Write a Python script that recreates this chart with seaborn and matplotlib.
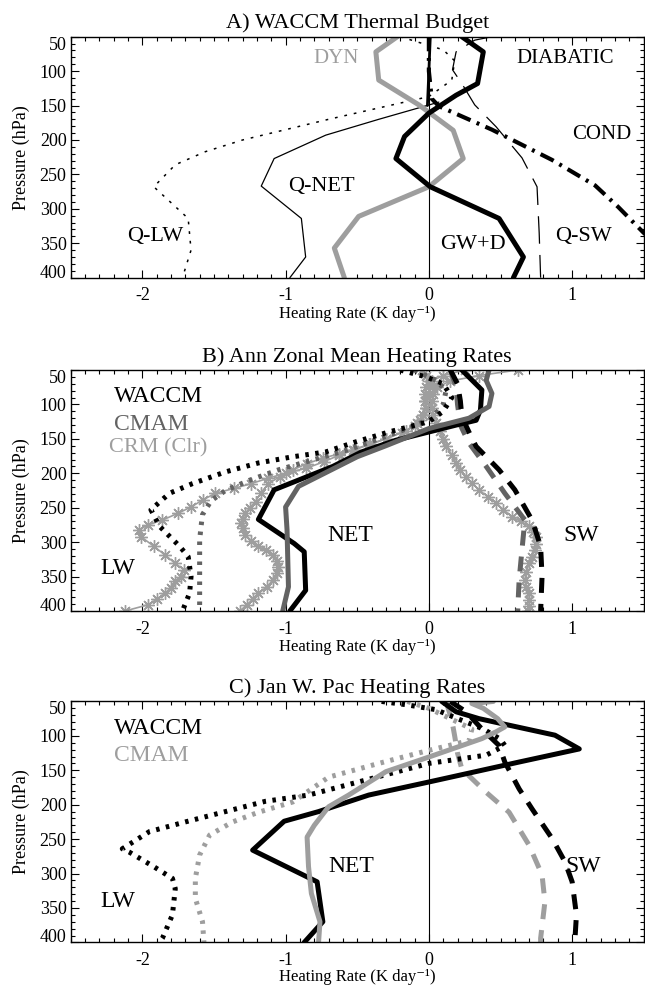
import matplotlib
matplotlib.use("Agg")
import matplotlib.pyplot as plt
import seaborn as sns
from matplotlib.ticker import MultipleLocator

sns.set_theme(style="ticks")
plt.rcParams['font.family'] = ['Liberation Serif', 'DejaVu Serif']
plt.rcParams['axes.unicode_minus'] = False

# ---------------- axes / ticks ----------------
x_ticks = [-2, -1, 0, 1]
x_tick_labels = ['-2', '-1', '0', '1']
p_ticks = [50, 100, 150, 200, 250, 300, 350, 400]
p_tick_labels = ['50', '100', '150', '200', '250', '300', '350', '400']
titles = ['A) WACCM Thermal Budget', 'B) Ann Zonal Mean Heating Rates', 'C) Jan W. Pac Heating Rates']
x_label = 'Heating Rate (K day\u207b\u00b9)'
y_label = 'Pressure (hPa)'

# ---------------- Panel A ----------------
a_qlw_p = [50, 69, 85, 113, 137, 170, 200, 217, 236, 268, 314, 360, 400]
a_qlw_x = [-0.20, 0.10, 0.18, 0.16, 0.0, -0.70, -1.30, -1.56, -1.77, -1.92, -1.68, -1.66, -1.72]
a_qnet_p = [145, 170, 193, 227, 267, 314, 370, 400]
a_qnet_x = [0.07, -0.35, -0.72, -1.08, -1.17, -0.89, -0.86, -0.97]
a_diab_p = [50, 100, 150]
a_diab_x = [0.01, 0.0, -0.01]
a_qsw_p = [50, 55, 72, 98, 118, 149, 181, 226, 268, 335, 400]
a_qsw_x = [0.44, 0.32, 0.19, 0.165, 0.23, 0.32, 0.47, 0.65, 0.755, 0.77, 0.78]
a_cond_p = [50, 100, 140, 151, 185, 207, 229, 266, 297, 335, 370, 400]
a_cond_x = [0.0, 0.0, 0.02, 0.07, 0.44, 0.65, 0.86, 1.16, 1.32, 1.50, 1.70, 1.85]
a_dyn_p = [50, 72, 113, 149, 186, 227, 268, 311, 357, 400]
a_dyn_x = [-0.22, -0.37, -0.35, -0.07, 0.17, 0.24, 0.0, -0.49, -0.66, -0.59]
a_gwd_p = [50, 72, 118, 135, 161, 195, 227, 268, 314, 370, 400]
a_gwd_x = [0.23, 0.38, 0.34, 0.19, 0.0, -0.17, -0.23, 0.01, 0.49, 0.66, 0.59]

# ---------------- Panel B ----------------
b_waccm_net_p = [50, 79, 108, 123, 130, 140, 152, 169, 190, 224, 267, 302, 314, 370, 400]
b_waccm_net_x = [0.23, 0.37, 0.36, 0.33, 0.19, 0.0, -0.23, -0.47, -0.67, -1.08, -1.19, -0.94, -0.87, -0.86, -0.97]
b_cmam_net_p = [50, 65, 84, 103, 120, 135, 160, 176, 219, 249, 282, 365, 400]
b_cmam_net_x = [0.42, 0.40, 0.44, 0.42, 0.28, 0.0, -0.30, -0.50, -0.91, -1.0, -0.99, -0.98, -1.02]
b_crm_net_p = [50, 58, 66, 75, 85, 95, 105, 115, 127, 138, 150, 158, 166, 172, 178, 186, 195, 205, 215, 228,
               241, 250, 258, 266, 272, 280, 289, 298, 306, 312, 319, 327, 336, 345, 355, 365, 374, 383, 391, 400]
b_crm_net_x = [0.25, 0.10, 0.02, -0.02, -0.03, -0.03, -0.02, -0.04, -0.08, -0.16, -0.30, -0.42, -0.53, -0.63,
               -0.74, -0.85, -0.95, -1.04, -1.12, -1.17, -1.21, -1.25, -1.28, -1.30, -1.31, -1.30, -1.28, -1.24,
               -1.19, -1.14, -1.09, -1.06, -1.05, -1.06, -1.09, -1.13, -1.19, -1.23, -1.27, -1.32]
b_waccm_lw_p = [50, 60, 70, 90, 110, 125, 140, 155, 169, 176, 185, 198, 215, 229, 253, 277, 306, 321, 350, 374, 400]
b_waccm_lw_x = [-0.20, -0.02, 0.10, 0.16, 0.10, 0.0, -0.28, -0.52, -0.72, -0.95, -1.19, -1.42, -1.65, -1.81,
                -1.94, -1.88, -1.74, -1.68, -1.66, -1.67, -1.72]
b_cmam_lw_p = [50, 65, 80, 100, 120, 135, 150, 165, 180, 195, 210, 225, 240, 260, 277, 297, 331, 365, 400]
b_cmam_lw_x = [-0.10, 0.05, 0.12, 0.10, 0.02, -0.15, -0.35, -0.55, -0.80, -1.05, -1.25, -1.42, -1.52, -1.58,
               -1.59, -1.60, -1.60, -1.60, -1.60]
b_crm_lw_p = [50, 58, 66, 75, 85, 95, 105, 115, 123, 132, 141, 150, 158, 166, 174, 183, 193, 200, 207, 215,
              222, 229, 239, 249, 258, 268, 275, 282, 292, 306, 319, 331, 340, 350, 357, 366, 374, 383, 391, 400]
b_crm_lw_x = [-0.05, -0.02, 0.0, 0.02, 0.0, -0.03, -0.02, -0.04, -0.06, -0.10, -0.19, -0.30, -0.41, -0.52,
              -0.63, -0.73, -0.86, -1.0, -1.12, -1.24, -1.36, -1.49, -1.58, -1.66, -1.75, -1.86, -1.96, -2.02,
              -2.01, -1.92, -1.84, -1.77, -1.71, -1.73, -1.77, -1.80, -1.84, -1.90, -1.96, -2.12]
b_waccm_sw_p = [50, 70, 95, 118, 149, 161, 195, 224, 268, 306, 350, 400]
b_waccm_sw_x = [0.15, 0.20, 0.22, 0.23, 0.30, 0.33, 0.49, 0.60, 0.72, 0.78, 0.79, 0.78]
b_cmam_sw_p = [50, 74, 100, 130, 156, 190, 229, 268, 311, 355, 400]
b_cmam_sw_x = [0.15, 0.19, 0.20, 0.22, 0.28, 0.40, 0.53, 0.67, 0.65, 0.63, 0.62]
b_crm_sw_p = [50, 58, 66, 75, 85, 95, 105, 115, 127, 138, 150, 161, 173, 185, 195, 205, 214, 224, 234, 243,
              253, 263, 270, 277, 285, 292, 302, 311, 321, 331, 343, 355, 365, 374, 384, 393, 400]
b_crm_sw_x = [0.62, 0.35, 0.15, 0.06, 0.03, 0.02, 0.02, 0.03, 0.05, 0.08, 0.10, 0.12, 0.16, 0.19, 0.22, 0.26,
              0.30, 0.35, 0.41, 0.47, 0.52, 0.58, 0.64, 0.70, 0.73, 0.75, 0.75, 0.74, 0.72, 0.70, 0.68, 0.67,
              0.68, 0.70, 0.70, 0.70, 0.69]

# ---------------- Panel C ----------------
c_waccm_net_p = [50, 65, 75, 99, 119, 138, 167, 186, 210, 224, 266, 312, 370, 400]
c_waccm_net_x = [0.09, 0.19, 0.35, 0.88, 1.05, 0.63, 0.0, -0.42, -0.77, -1.01, -1.23, -0.78, -0.74, -0.87]
c_cmam_net_p = [50, 53, 60, 75, 87, 94, 104, 130, 152, 186, 203, 230, 247, 290, 329, 370, 400]
c_cmam_net_x = [0.45, 0.30, 0.38, 0.48, 0.53, 0.47, 0.37, 0.01, -0.30, -0.56, -0.70, -0.80, -0.85, -0.84,
                -0.82, -0.76, -0.77]
c_waccm_lw_p = [50, 55, 62, 75, 90, 105, 114, 128, 140, 163, 186, 195, 210, 225, 239, 264, 269, 290, 307, 322,
                360, 394, 400]
c_waccm_lw_x = [-0.33, -0.15, 0.05, 0.20, 0.38, 0.50, 0.53, 0.40, 0.0, -0.42, -0.84, -1.14, -1.42, -1.70, -1.95,
                -2.14, -2.09, -1.92, -1.79, -1.77, -1.79, -1.86, -1.88]
c_cmam_lw_p = [50, 60, 75, 90, 107, 121, 140, 160, 196, 211, 225, 244, 273, 307, 336, 370, 400]
c_cmam_lw_x = [-0.15, 0.0, 0.15, 0.30, 0.28, 0.0, -0.35, -0.70, -0.95, -1.19, -1.37, -1.53, -1.60, -1.63, -1.63,
               -1.58, -1.57]
c_waccm_sw_p = [50, 65, 90, 114, 138, 177, 206, 249, 283, 312, 360, 394, 400]
c_waccm_sw_x = [0.15, 0.26, 0.37, 0.49, 0.53, 0.63, 0.72, 0.86, 0.95, 1.0, 1.03, 1.02, 1.02]
c_cmam_sw_p = [50, 77, 100, 125, 148, 182, 211, 259, 302, 341, 394, 400]
c_cmam_sw_x = [0.12, 0.16, 0.18, 0.20, 0.23, 0.40, 0.56, 0.70, 0.79, 0.81, 0.78, 0.78]

BLACK = 'black'
DGRAY = '#636363'
LGRAY = '#9e9e9e'

fig = plt.figure(figsize=(6.45, 9.92), dpi=100)
L, W, H = 0.1096, 0.8885, 0.2429
axA = fig.add_axes([L, 0.7201, W, H])
axB = fig.add_axes([L, 0.3841, W, H])
axC = fig.add_axes([L, 0.0500, W, H])


def line(ax, x, p, color, lw, ls='-', **kw):
    sns.lineplot(x=x, y=p, sort=False, estimator=None, ax=ax, color=color,
                 lw=lw, linestyle=ls, legend=False, **kw)


def setup(ax, title, xlabelpad=1):
    ax.set_xlim(-2.5, 1.5)
    ax.set_ylim(400, 50)
    ax.set_xticks(x_ticks)
    ax.set_xticklabels(x_tick_labels)
    ax.set_yticks(p_ticks)
    ax.set_yticklabels(p_tick_labels)
    ax.xaxis.set_minor_locator(MultipleLocator(0.1))
    ax.yaxis.set_minor_locator(MultipleLocator(10))
    ax.tick_params(which='both', direction='in', top=True, right=True,
                   color='black', width=0.8)
    ax.tick_params(which='major', length=6)
    ax.tick_params(which='minor', length=3)
    ax.tick_params(axis='x', which='major', pad=7, labelsize=13, labelcolor='black')
    ax.tick_params(axis='y', which='major', pad=3, labelsize=13, labelcolor='black')
    for s in ax.spines.values():
        s.set_color('black')
        s.set_linewidth(1.0)
    ax.axvline(0, color='black', lw=0.8, zorder=1)
    ax.set_title(title, fontsize=16, pad=6, color='black')
    ax.set_xlabel(x_label, fontsize=12, labelpad=xlabelpad, color='black')
    ax.set_ylabel(y_label, fontsize=13, labelpad=7, color='black')
    ax.grid(False)
    ylabels = ax.get_yticklabels()
    ylabels[0].set_verticalalignment('top')
    ylabels[-1].set_verticalalignment('baseline')


# ---- Panel A ----
ax = axA
line(ax, a_qlw_x, a_qlw_p, BLACK, 1.1, (0, (1.8, 4.5)))
line(ax, a_qnet_x, a_qnet_p, BLACK, 0.9, '-')
line(ax, a_diab_x, a_diab_p, BLACK, 2.0, '-')
line(ax, a_qsw_x, a_qsw_p, BLACK, 0.9, (0, (22, 9)))
line(ax, a_cond_x, a_cond_p, BLACK, 3.0, (0, (3.5, 1.6, 0.7, 1.6)))
line(ax, a_dyn_x, a_dyn_p, LGRAY, 3.6, '-')
line(ax, a_gwd_x, a_gwd_p, BLACK, 3.6, '-')
setup(ax, titles[0])
ax.text(-0.645, 81, 'DYN', color=LGRAY, fontsize=15, ha='center', va='center')
ax.text(0.95, 81, 'DIABATIC', color='black', fontsize=15, ha='center', va='center')
ax.text(1.21, 192, 'COND', color='black', fontsize=15, ha='center', va='center')
ax.text(-0.75, 268, 'Q-NET', color='black', fontsize=16, ha='center', va='center')
ax.text(-1.91, 340, 'Q-LW', color='black', fontsize=16, ha='center', va='center')
ax.text(0.31, 352, 'GW+D', color='black', fontsize=16, ha='center', va='center')
ax.text(1.08, 340, 'Q-SW', color='black', fontsize=16, ha='center', va='center')

# ---- Panel B ----
ax = axB
DOT = (0, (0.7, 1.3))
DASH = (0, (3, 2.2))
AST = (8, 2, 0)
mk = dict(marker=AST, markersize=9, markeredgewidth=1.0,
          markeredgecolor=LGRAY, markerfacecolor=LGRAY)
line(ax, b_crm_lw_x, b_crm_lw_p, LGRAY, 1.2, '-', **mk)
line(ax, b_crm_net_x, b_crm_net_p, LGRAY, 1.2, '-', **mk)
line(ax, b_crm_sw_x, b_crm_sw_p, LGRAY, 1.2, '-', **mk)
line(ax, b_cmam_lw_x, b_cmam_lw_p, DGRAY, 3.6, DOT)
line(ax, b_cmam_sw_x, b_cmam_sw_p, DGRAY, 3.6, DASH)
line(ax, b_waccm_lw_x, b_waccm_lw_p, BLACK, 3.6, DOT)
line(ax, b_waccm_sw_x, b_waccm_sw_p, BLACK, 3.6, DASH)
line(ax, b_waccm_net_x, b_waccm_net_p, BLACK, 3.6, '-')
line(ax, b_cmam_net_x, b_cmam_net_p, DGRAY, 3.6, '-')
setup(ax, titles[1])
ax.text(-2.2, 89, 'WACCM', color='black', fontsize=17, ha='left', va='center')
ax.text(-2.2, 129, 'CMAM', color=DGRAY, fontsize=17, ha='left', va='center')
ax.text(-2.23, 163, 'CRM (Clr)', color=LGRAY, fontsize=16, ha='left', va='center')
ax.text(-2.17, 338, 'LW', color='black', fontsize=17, ha='center', va='center')
ax.text(-0.55, 290, 'NET', color='black', fontsize=17, ha='center', va='center')
ax.text(1.06, 290, 'SW', color='black', fontsize=17, ha='center', va='center')

# ---- Panel C ----
ax = axC
line(ax, c_cmam_lw_x, c_cmam_lw_p, LGRAY, 3.6, DOT)
line(ax, c_cmam_sw_x, c_cmam_sw_p, LGRAY, 3.6, DASH)
line(ax, c_waccm_lw_x, c_waccm_lw_p, BLACK, 3.6, DOT)
line(ax, c_waccm_sw_x, c_waccm_sw_p, BLACK, 3.6, DASH)
line(ax, c_waccm_net_x, c_waccm_net_p, BLACK, 3.6, '-')
line(ax, c_cmam_net_x, c_cmam_net_p, LGRAY, 3.6, '-')
setup(ax, titles[2], xlabelpad=0)
ax.text(-2.2, 90, 'WACCM', color='black', fontsize=17, ha='left', va='center')
ax.text(-2.2, 129, 'CMAM', color=LGRAY, fontsize=17, ha='left', va='center')
ax.text(-2.17, 340, 'LW', color='black', fontsize=17, ha='center', va='center')
ax.text(-0.54, 290, 'NET', color='black', fontsize=17, ha='center', va='center')
ax.text(1.08, 290, 'SW', color='black', fontsize=17, ha='center', va='center')

fig.savefig('out.png', dpi=100, facecolor='white')
